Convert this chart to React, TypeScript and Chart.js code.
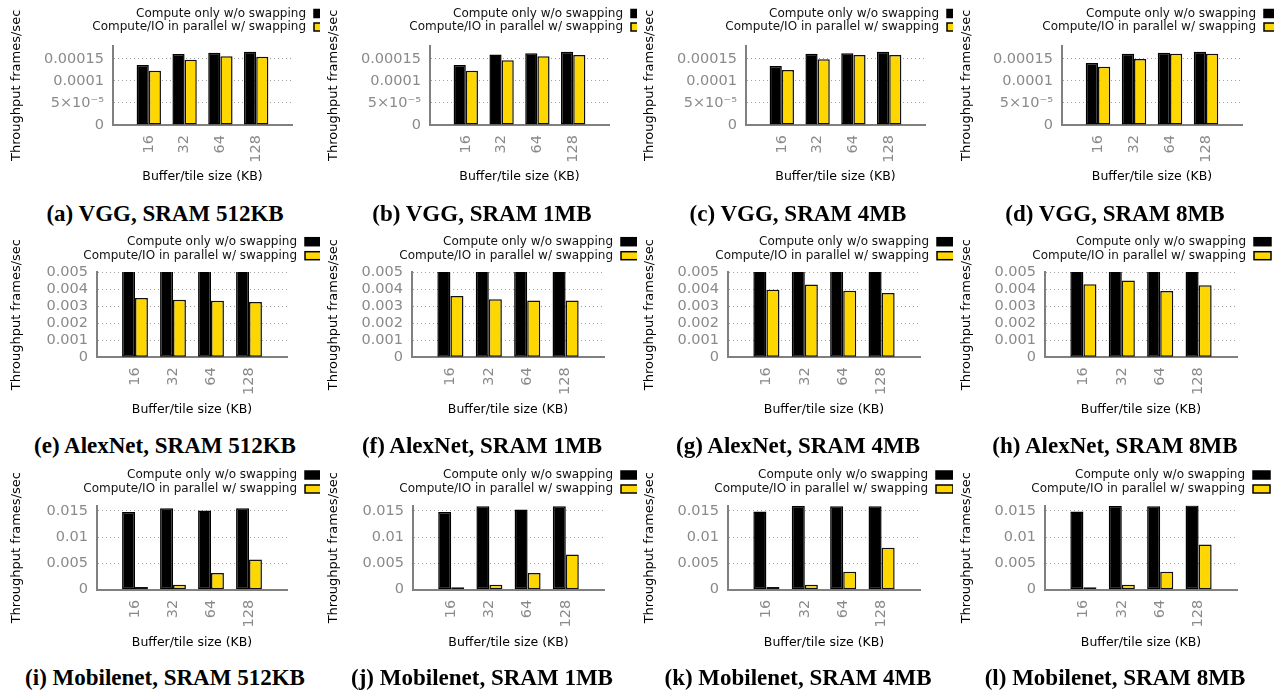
import React, { useEffect, useRef } from 'react';
import { Chart, registerables } from 'chart.js';

Chart.register(...registerables);

// ---------------- data ----------------
const categories = ['16', '32', '64', '128'];
const sramSizes = ['512KB', '1MB', '4MB', '8MB'];
const networks = ['VGG', 'AlexNet', 'Mobilenet'];
const panelLetters = ['a', 'b', 'c', 'd', 'e', 'f', 'g', 'h', 'i', 'j', 'k', 'l'];
const seriesNames = ['Compute only w/o swapping', 'Compute/IO in parallel w/ swapping'];
const yAxisTitle = 'Throughput frames/sec';
const xAxisTitle = 'Buffer/tile size (KB)';

// one row per SRAM size (512KB, 1MB, 4MB, 8MB), one value per buffer/tile size
const vggComputeOnly = [
  [0.000136, 0.000161, 0.000164, 0.000166],
  [0.000136, 0.00016, 0.000163, 0.000166],
  [0.000134, 0.000162, 0.000163, 0.000166],
  [0.000141, 0.000162, 0.000164, 0.000166],
];
const vggParallel = [
  [0.000123, 0.000148, 0.000156, 0.000155],
  [0.000123, 0.000147, 0.000156, 0.000159],
  [0.000125, 0.000149, 0.000159, 0.000159],
  [0.000132, 0.00015, 0.000162, 0.000162],
];
const alexnetComputeOnly = [
  [0.0062, 0.0062, 0.0063, 0.0063],
  [0.0062, 0.0063, 0.0063, 0.0063],
  [0.0063, 0.0064, 0.0064, 0.0064],
  [0.0063, 0.0064, 0.0064, 0.0064],
];
const alexnetParallel = [
  [0.00347, 0.00337, 0.00331, 0.00324],
  [0.0036, 0.00341, 0.00333, 0.00333],
  [0.00396, 0.00426, 0.0039, 0.00377],
  [0.00428, 0.0045, 0.00389, 0.00422],
];
const mobilenetComputeOnly = [
  [0.0148, 0.0155, 0.0151, 0.0155],
  [0.0148, 0.0159, 0.0153, 0.0159],
  [0.0149, 0.016, 0.0159, 0.0159],
  [0.0149, 0.016, 0.0159, 0.0161],
];
const mobilenetParallel = [
  [0.0005, 0.00095, 0.00317, 0.00577],
  [0.00045, 0.00094, 0.0032, 0.0067],
  [0.0005, 0.00095, 0.0034, 0.00797],
  [0.00045, 0.00095, 0.0034, 0.0086],
];

const vggTicks = [0, 0.00005, 0.0001, 0.00015];
const vggTickLabels = ['0', '5×10⁻⁵', '0.0001', '0.00015'];
const vggMax = 0.00018;
const alexnetTicks = [0, 0.001, 0.002, 0.003, 0.004, 0.005];
const alexnetTickLabels = ['0', '0.001', '0.002', '0.003', '0.004', '0.005'];
const alexnetMax = 0.005;
const mobilenetTicks = [0, 0.005, 0.01, 0.015];
const mobilenetTickLabels = ['0', '0.005', '0.01', '0.015'];
const mobilenetMax = 0.016;

// ---------------- layout ----------------
const ROW_TOP = [0, 232, 464];
const COL_LEFT = [0, 317, 633, 950];
const PLOT_TOP = [45.7, 40, 41.7];
const PLOT_BOTTOM = [125, 125.3, 125.7];
const AXIS_LEFT = [
  [113, 113, 113, 112],
  [97, 95, 95, 95],
  [97, 96, 95, 95],
];
const PLOT_RIGHT = [292, 287, 287];
const LEGEND_Y = [
  [13.5, 27],
  [9.7, 23.7],
  [11, 25],
];
const LEGEND_TEXT_RIGHT = [
  [306, 306, 306, 306],
  [297, 296, 296, 296],
  [297, 296, 295, 295],
];
const X_TITLE_Y = [176.7, 178, 178.7];
const CAPTION_Y = 213.5;
const FONT = '"DejaVu Sans", sans-serif';
const YELLOW = '#ffd700';

const legendPlugin = {
  id: 'panelLegend',
  afterDraw(chart: any, _args: any, opts: any) {
    const ctx = chart.ctx;
    ctx.save();
    ctx.font = `12px ${FONT}`;
    ctx.textAlign = 'right';
    ctx.textBaseline = 'middle';
    chart.data.datasets.forEach((ds: any, i: number) => {
      const y = opts.lineY[i];
      ctx.fillStyle = '#111';
      ctx.fillText(ds.label, opts.textRight, y);
      const bx = opts.textRight + 8;
      ctx.fillStyle = ds.backgroundColor;
      ctx.fillRect(bx, y - 4, 17, 8);
      ctx.strokeStyle = '#000';
      ctx.lineWidth = 1.5;
      ctx.strokeRect(bx, y - 4, 17, 8);
    });
    ctx.restore();
  },
};

type PanelProps = {
  row: number;
  col: number;
  compute: number[];
  parallel: number[];
  yMax: number;
  ticks: number[];
  tickLabels: string[];
  caption: string;
};

function Panel({ row, col, compute, parallel, yMax, ticks, tickLabels, caption }: PanelProps) {
  const ref = useRef<HTMLCanvasElement | null>(null);
  const W = col === 3 ? 324 : 320;
  const H = Math.round(X_TITLE_Y[row] + 12);

  useEffect(() => {
    if (!ref.current) return;
    const labels = ['', ...categories, ''];
    const titleLH = 12.5 * 1.2;
    const chart = new Chart(ref.current, {
      type: 'bar',
      data: {
        labels,
        datasets: [
          {
            label: seriesNames[0],
            data: [null, ...compute, null],
            backgroundColor: '#000',
            borderColor: '#000',
            borderWidth: 1.5,
            borderSkipped: false,
          },
          {
            label: seriesNames[1],
            data: [null, ...parallel, null],
            backgroundColor: YELLOW,
            borderColor: '#111',
            borderWidth: 1.5,
            borderSkipped: false,
          },
        ],
      },
      options: {
        responsive: false,
        animation: false,
        devicePixelRatio: 1,
        categoryPercentage: 0.68,
        barPercentage: 1,
        layout: {
          padding: { top: PLOT_TOP[row], left: 0, right: W - PLOT_RIGHT[row], bottom: 0 },
        },
        plugins: {
          legend: { display: false },
          tooltip: { enabled: false },
          panelLegend: { lineY: LEGEND_Y[row], textRight: LEGEND_TEXT_RIGHT[row][col] },
        } as any,
        scales: {
          x: {
            type: 'category',
            offset: false,
            grid: { display: false, drawTicks: false },
            border: { display: true, color: '#808080', width: 2 },
            ticks: {
              autoSkip: false,
              minRotation: 90,
              maxRotation: 90,
              padding: 10,
              color: '#8a8a8a',
              font: { family: FONT, size: 14.5 },
            },
            title: {
              display: true,
              text: xAxisTitle,
              color: '#000',
              font: { family: FONT, size: 12.5 },
              padding: { top: 0, bottom: 12 - titleLH / 2 },
            },
            afterFit: (s: any) => {
              s.height = H - PLOT_BOTTOM[row];
            },
          },
          y: {
            type: 'linear',
            min: 0,
            max: yMax,
            grid: { display: true, drawTicks: false, color: '#a0a0a0', lineWidth: 1 },
            border: { display: true, color: '#808080', width: 2, dash: [1, 3] },
            afterBuildTicks: (s: any) => {
              s.ticks = ticks.map((v) => ({ value: v }));
            },
            ticks: {
              autoSkip: false,
              padding: 9,
              color: '#8a8a8a',
              font: { family: FONT, size: 14.5 },
              callback: (_v: any, i: number) => tickLabels[i],
            },
            title: {
              display: true,
              text: yAxisTitle,
              color: '#000',
              font: { family: FONT, size: 13 },
              padding: { top: 9, bottom: 0 },
            },
            afterFit: (s: any) => {
              s.width = AXIS_LEFT[row][col];
            },
          },
        },
      } as any,
      plugins: [legendPlugin],
    });
    return () => chart.destroy();
  }, []);

  const left = COL_LEFT[col];
  const top = ROW_TOP[row];
  return (
    <>
      <canvas
        ref={ref}
        width={W}
        height={H}
        style={{ position: 'absolute', left, top, width: W, height: H }}
      />
      <div
        style={{
          position: 'absolute',
          left,
          top: top + CAPTION_Y - 15,
          width: 330,
          height: 30,
          lineHeight: '30px',
          textAlign: 'center',
          fontFamily: '"Liberation Serif", serif',
          fontWeight: 'bold',
          fontSize: 23,
          color: '#000',
          whiteSpace: 'nowrap',
        }}
      >
        {caption}
      </div>
    </>
  );
}

export default function App() {
  const computeSets = [vggComputeOnly, alexnetComputeOnly, mobilenetComputeOnly];
  const parallelSets = [vggParallel, alexnetParallel, mobilenetParallel];
  const maxes = [vggMax, alexnetMax, mobilenetMax];
  const tickSets = [vggTicks, alexnetTicks, mobilenetTicks];
  const tickLabelSets = [vggTickLabels, alexnetTickLabels, mobilenetTickLabels];
  const panels: React.ReactNode[] = [];
  for (let r = 0; r < 3; r++) {
    for (let c = 0; c < 4; c++) {
      const idx = r * 4 + c;
      panels.push(
        <Panel
          key={idx}
          row={r}
          col={c}
          compute={computeSets[r][c]}
          parallel={parallelSets[r][c]}
          yMax={maxes[r]}
          ticks={tickSets[r]}
          tickLabels={tickLabelSets[r]}
          caption={`(${panelLetters[idx]}) ${networks[r]}, SRAM ${sramSizes[c]}`}
        />
      );
    }
  }
  return (
    <div style={{ position: 'absolute', left: 0, top: 0, width: 1274, height: 696, background: '#fff', overflow: 'hidden' }}>
      {panels}
    </div>
  );
}
